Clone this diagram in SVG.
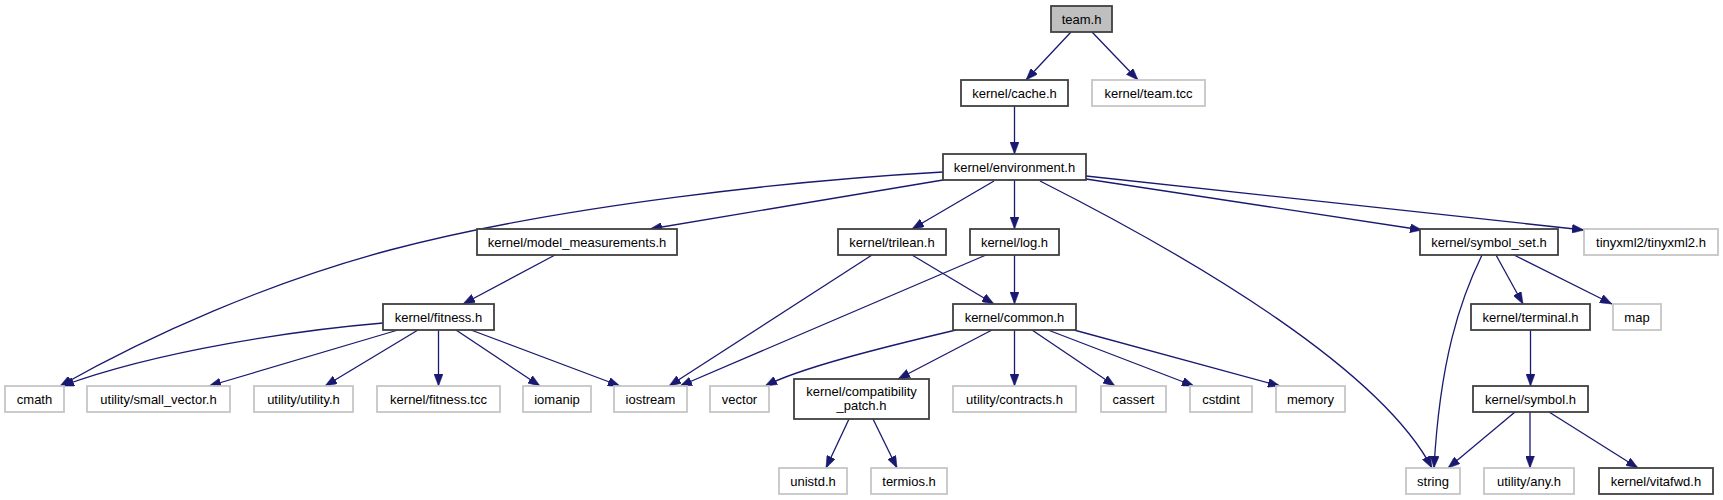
<svg xmlns="http://www.w3.org/2000/svg" width="1723" height="500" viewBox="0 0 1723 500">
<style>
.n rect{fill:#ffffff;stroke:#404040;stroke-width:1.8}
.g rect{fill:#ffffff;stroke:#c6c6c6;stroke-width:1.8}
.root rect{fill:#bfbfbf;stroke:#404040;stroke-width:1.8}
text{font-family:"Liberation Sans",Arial,sans-serif;font-size:13px;fill:#000000;text-anchor:middle}
#edges path{fill:none;stroke:#191970;stroke-width:1.3;marker-end:url(#arr)}
</style>
<defs>
<marker id="arr" viewBox="0 0 12 9" refX="12" refY="4.5" markerWidth="12" markerHeight="9" markerUnits="userSpaceOnUse" orient="auto">
<path d="M0,0 L12,4.5 L0,9 Z" fill="#191970" stroke="#191970" stroke-width="0.5"/>
</marker>
</defs>
<rect x="0" y="0" width="1723" height="500" fill="#ffffff"/>
<g id="edges">
<path d="M1071,32 L1026,80"/>
<path d="M1092,32 L1138,80"/>
<path d="M1014.5,106 L1014.5,154"/>
<path d="M943,172 C800,180 560,205 390,250 C270,282 150,335 60,386"/>
<path d="M383,323 C300,330 160,350 62,386"/>
<path d="M943,180 L650,229"/>
<path d="M994,181 L912,229"/>
<path d="M1014.5,180 L1014.5,229"/>
<path d="M1040,181 C1200,262 1380,370 1432,468"/>
<path d="M1086,179 L1422,230"/>
<path d="M1086,176 L1584,230"/>
<path d="M555,255 L463,304"/>
<path d="M398,330 L209,386"/>
<path d="M418,330 L325,386"/>
<path d="M438.5,330 L438.5,386"/>
<path d="M456,330 L540,386"/>
<path d="M471,330 L620,386"/>
<path d="M872,255 L669,386"/>
<path d="M912,255 L994,304"/>
<path d="M986,255 L680,386"/>
<path d="M1014.5,255 L1014.5,304"/>
<path d="M956,330 C880,348 800,368 765,386"/>
<path d="M992,330 L898,379"/>
<path d="M1014.5,330 L1014.5,386"/>
<path d="M1032,330 L1115,386"/>
<path d="M1048,330 L1194,386"/>
<path d="M1074,330 L1280,386"/>
<path d="M849,419 L826,468"/>
<path d="M873,419 L897,468"/>
<path d="M1482,255 C1460,300 1440,360 1434,468"/>
<path d="M1496,255 L1523,304"/>
<path d="M1514,255 L1612,304"/>
<path d="M1530.5,330 L1530.5,386"/>
<path d="M1515,412 L1448,468"/>
<path d="M1530,412 L1530,468"/>
<path d="M1549,412 L1638,468"/>
</g>
<g id="team_h" class="root"><rect x="1051" y="6" width="61" height="26"/><text x="1081.5" y="23.5">team.h</text></g>
<g id="cache_h" class="n"><rect x="961" y="80" width="107" height="26"/><text x="1014.5" y="97.5">kernel/cache.h</text></g>
<g id="team_tcc" class="g"><rect x="1092" y="80" width="113" height="26"/><text x="1148.5" y="97.5">kernel/team.tcc</text></g>
<g id="environment_h" class="n"><rect x="943" y="154" width="143" height="26"/><text x="1014.5" y="171.5">kernel/environment.h</text></g>
<g id="model_measurements_h" class="n"><rect x="477" y="229" width="200" height="26"/><text x="577" y="246.5">kernel/model_measurements.h</text></g>
<g id="trilean_h" class="n"><rect x="838" y="229" width="108" height="26"/><text x="892" y="246.5">kernel/trilean.h</text></g>
<g id="log_h" class="n"><rect x="970" y="229" width="89" height="26"/><text x="1014.5" y="246.5">kernel/log.h</text></g>
<g id="symbol_set_h" class="n"><rect x="1420" y="229" width="138" height="26"/><text x="1489" y="246.5">kernel/symbol_set.h</text></g>
<g id="tinyxml2_h" class="g"><rect x="1584" y="229" width="134" height="26"/><text x="1651" y="246.5">tinyxml2/tinyxml2.h</text></g>
<g id="fitness_h" class="n"><rect x="383" y="304" width="111" height="26"/><text x="438.5" y="321.5">kernel/fitness.h</text></g>
<g id="common_h" class="n"><rect x="953" y="304" width="123" height="26"/><text x="1014.5" y="321.5">kernel/common.h</text></g>
<g id="terminal_h" class="n"><rect x="1471" y="304" width="119" height="26"/><text x="1530.5" y="321.5">kernel/terminal.h</text></g>
<g id="map" class="g"><rect x="1613" y="304" width="48" height="26"/><text x="1637" y="321.5">map</text></g>
<g id="cmath" class="g"><rect x="5" y="386" width="59" height="26"/><text x="34.5" y="403.5">cmath</text></g>
<g id="small_vector_h" class="g"><rect x="87" y="386" width="143" height="26"/><text x="158.5" y="403.5">utility/small_vector.h</text></g>
<g id="utility_h" class="g"><rect x="254" y="386" width="99" height="26"/><text x="303.5" y="403.5">utility/utility.h</text></g>
<g id="fitness_tcc" class="g"><rect x="377" y="386" width="123" height="26"/><text x="438.5" y="403.5">kernel/fitness.tcc</text></g>
<g id="iomanip" class="g"><rect x="523" y="386" width="68" height="26"/><text x="557" y="403.5">iomanip</text></g>
<g id="iostream" class="g"><rect x="614" y="386" width="73" height="26"/><text x="650.5" y="403.5">iostream</text></g>
<g id="vector" class="g"><rect x="710" y="386" width="59" height="26"/><text x="739.5" y="403.5">vector</text></g>
<g id="compatibility_patch_h" class="n"><rect x="794" y="379" width="135" height="40"/><text x="861.5" y="396">kernel/compatibility</text><text x="861.5" y="410">_patch.h</text></g>
<g id="contracts_h" class="g"><rect x="953" y="386" width="123" height="26"/><text x="1014.5" y="403.5">utility/contracts.h</text></g>
<g id="cassert" class="g"><rect x="1101" y="386" width="65" height="26"/><text x="1133.5" y="403.5">cassert</text></g>
<g id="cstdint" class="g"><rect x="1190" y="386" width="62" height="26"/><text x="1221" y="403.5">cstdint</text></g>
<g id="memory" class="g"><rect x="1276" y="386" width="69" height="26"/><text x="1310.5" y="403.5">memory</text></g>
<g id="symbol_h" class="n"><rect x="1473" y="386" width="115" height="26"/><text x="1530.5" y="403.5">kernel/symbol.h</text></g>
<g id="unistd_h" class="g"><rect x="779" y="468" width="68" height="26"/><text x="813" y="485.5">unistd.h</text></g>
<g id="termios_h" class="g"><rect x="871" y="468" width="76" height="26"/><text x="909" y="485.5">termios.h</text></g>
<g id="string" class="g"><rect x="1406" y="468" width="54" height="26"/><text x="1433" y="485.5">string</text></g>
<g id="any_h" class="g"><rect x="1484" y="468" width="90" height="26"/><text x="1529" y="485.5">utility/any.h</text></g>
<g id="vitafwd_h" class="n"><rect x="1599" y="468" width="114" height="26"/><text x="1656" y="485.5">kernel/vitafwd.h</text></g>
</svg>
